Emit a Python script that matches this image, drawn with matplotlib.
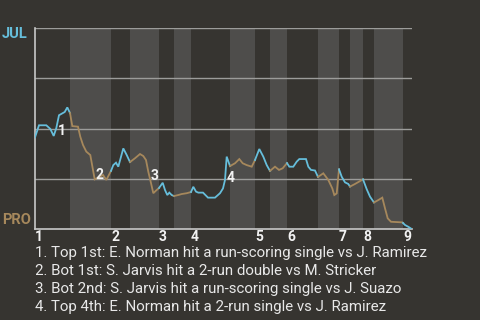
import matplotlib
matplotlib.use("Agg")
import matplotlib.pyplot as plt

# ---- data ----
away, home = "JUL", "PRO"
inning_labels = ["1", "2", "3", "4", "5", "6", "7", "8", "9"]
# game progress positions of half-inning boundaries (top1, bot1, top2, ...)
half_bounds = [0, 35, 76, 95, 124, 139, 156, 195, 220, 235, 252, 283, 304, 315, 328, 339, 368, 377]
inning_starts = half_bounds[0::2][:9]

prog = [0, 4, 11.3, 15.3, 18.7, 21.3, 24, 29.7, 32.3, 35,
        37.3, 43, 45.3, 48, 51.3, 55.3, 59.7, 64.7, 68, 71.3, 76,
        78.3, 81, 83.3, 88.3, 91.7, 95,
        100, 105, 108.3, 111, 113.3, 115.7, 118.3, 121, 124,
        127.7, 130, 132.3, 134.3, 136.7, 139,
        143.3, 146.7, 151.7, 156,
        158.3, 161, 163.3, 168, 173, 180, 185, 188, 190, 191.7, 195,
        200, 204.3, 207.7, 211.7, 216.7, 220,
        224.3, 228.3, 231.7, 235,
        240, 244, 247.7, 252,
        254.3, 258.3, 261.7, 264.3, 271, 273.3, 276, 280, 283,
        288.3, 293.3, 297.3, 299.3, 301.7, 304,
        306.7, 310, 313.3, 315,
        320, 328,
        331.7, 335, 339,
        343.3, 347.3, 350, 352.7, 356, 367.3, 368,
        370, 373.3, 376.7]
win_pct = [45.6, 51.6, 51.6, 49.8, 46.3, 50.2, 56.6, 58.2, 60.5, 57.7,
           51.2, 50.9, 45.9, 41.8, 38.5, 36.8, 24.7, 26.0, 26.9, 24.4, 28.9,
           31.8, 33.0, 31.0, 40.1, 36.8, 33.3,
           35.2, 37.3, 36.3, 34.3, 28.5, 23.5, 17.8, 19.1, 20.4,
           23.0, 19.4, 16.9, 18.1, 16.9, 16.4,
           16.9, 17.4, 17.8, 18.4,
           21.0, 18.6, 18.1, 18.1, 15.6, 15.6, 17.8, 20.2, 24.4, 36.0, 31.3,
           32.7, 34.8, 32.7, 31.8, 31.0, 34.3,
           39.8, 36.0, 31.8, 28.9,
           31.0, 29.4, 30.2, 32.8,
           31.0, 31.0, 33.5, 34.8, 34.8, 31.0, 29.4, 29.1, 25.9,
           27.7, 24.4, 20.2, 16.9, 17.7, 29.7,
           26.0, 23.2, 22.4, 21.1,
           22.4, 24.7,
           19.8, 16.1, 13.2,
           14.4, 15.6, 10.3, 5.3, 3.6, 3.3, 3.0,
           2.0, 1.1, 0.0]

event_ids = ["1", "2", "3", "4"]
event_x = [27, 64, 120, 196]
event_y = [48.8, 26.9, 26.4, 25.4]
event_texts = [
    "1. Top 1st: E. Norman hit a run-scoring single vs J. Ramirez",
    "2. Bot 1st: S. Jarvis hit a 2-run double vs M. Stricker",
    "3. Bot 2nd: S. Jarvis hit a run-scoring single vs J. Suazo",
    "4. Top 4th: E. Norman hit a 2-run single vs J. Ramirez",
]

# ---- style ----
BG = "#363430"
BAND = "#4e4d4b"
BLUE = "#66bedb"
BROWN = "#a6885c"
TXT = "#e8e8e8"
plt.rcParams['font.family'] = ['Roboto', 'DejaVu Sans']

W, H = 480, 320
fig = plt.figure(figsize=(W / 100, H / 100), dpi=100, facecolor=BG)
L, R, T, B = 35, 412, 28, 229
ax = fig.add_axes([L / W, 1 - B / H, (R - L) / W, (B - T) / H], facecolor=BG)
ax.set_xlim(0, half_bounds[-1])
ax.set_ylim(0, 100)

# bottom-half bands
for i in range(1, len(half_bounds) - 1, 2):
    ax.axvspan(half_bounds[i], half_bounds[i + 1], color=BAND, lw=0, zorder=0)

for g in (25, 50, 75, 100):
    ax.axhline(g, color="#9c9c9a", lw=1.0, zorder=1)

# win probability line, coloured by half inning
for i in range(len(half_bounds) - 1):
    a, b = half_bounds[i], half_bounds[i + 1]
    xs = [x for x in prog if a <= x <= b]
    ys = [y for x, y in zip(prog, win_pct) if a <= x <= b]
    ax.plot(xs, ys, color=BLUE if i % 2 == 0 else BROWN, lw=1.3,
            solid_joinstyle="miter", zorder=3)

for lab, x, y in zip(event_ids, event_x, event_y):
    ax.text(x, y, lab, color="#f2f2f2", fontsize=10, fontweight="bold",
            ha="center", va="center", zorder=4)

for s in ("top", "right"):
    ax.spines[s].set_visible(False)
ax.spines["left"].set_color("#c8c8c8")
ax.spines["bottom"].set_color("#c8c8c8")
ax.spines["left"].set_linewidth(1.2)
ax.spines["bottom"].set_linewidth(1.2)
ax.set_yticks([])
ax.set_xticks(inning_starts)
ax.set_xticklabels(inning_labels, color="#f2f2f2", fontsize=10, fontweight="bold", ha="left")
ax.tick_params(axis="x", length=0, pad=0.5)

fig.text(2 / W, 1 - 33.5 / H, away, color=BLUE, fontsize=10.5, fontweight="bold", va="center", ha="left")
fig.text(2 / W, 1 - 220 / H, home, color=BROWN, fontsize=10.5, fontweight="bold", va="center", ha="left")

for k, t in enumerate(event_texts):
    fig.text(35 / W, 1 - (253 + k * 17.9) / H, t, color=TXT, fontsize=10.8, va="center", ha="left")

fig.savefig("out.png", dpi=100, facecolor=BG)
